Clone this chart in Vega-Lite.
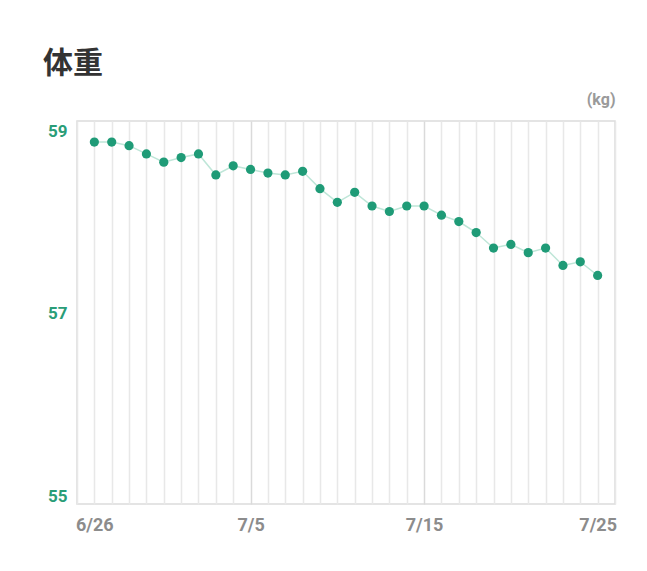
{
  "$schema": "https://vega.github.io/schema/vega-lite/v6.json",
  "width": 538,
  "height": 383,
  "autosize": {"type": "none"},
  "padding": {"left": 77, "top": 121, "right": 32, "bottom": 67},
  "background": "white",
  "title": {
    "text": "体重",
    "anchor": "start",
    "frame": "group",
    "dx": -34,
    "offset": 12,
    "font": "Noto Sans CJK JP",
    "fontSize": 30,
    "fontWeight": "bold",
    "color": "#333333"
  },
  "config": {
    "view": {"stroke": "#dcdcdc", "strokeWidth": 1.5},
    "font": "Roboto"
  },
  "data": {
    "values": [
      {"date": "2024-06-26", "kg": 58.88},
      {"date": "2024-06-27", "kg": 58.88},
      {"date": "2024-06-28", "kg": 58.84},
      {"date": "2024-06-29", "kg": 58.75},
      {"date": "2024-06-30", "kg": 58.66},
      {"date": "2024-07-01", "kg": 58.71},
      {"date": "2024-07-02", "kg": 58.75},
      {"date": "2024-07-03", "kg": 58.52},
      {"date": "2024-07-04", "kg": 58.62},
      {"date": "2024-07-05", "kg": 58.58},
      {"date": "2024-07-06", "kg": 58.54},
      {"date": "2024-07-07", "kg": 58.52},
      {"date": "2024-07-08", "kg": 58.56},
      {"date": "2024-07-09", "kg": 58.37},
      {"date": "2024-07-10", "kg": 58.22},
      {"date": "2024-07-11", "kg": 58.33},
      {"date": "2024-07-12", "kg": 58.18},
      {"date": "2024-07-13", "kg": 58.12},
      {"date": "2024-07-14", "kg": 58.18},
      {"date": "2024-07-15", "kg": 58.18},
      {"date": "2024-07-16", "kg": 58.08},
      {"date": "2024-07-17", "kg": 58.01},
      {"date": "2024-07-18", "kg": 57.89},
      {"date": "2024-07-19", "kg": 57.72},
      {"date": "2024-07-20", "kg": 57.76},
      {"date": "2024-07-21", "kg": 57.67},
      {"date": "2024-07-22", "kg": 57.72},
      {"date": "2024-07-23", "kg": 57.53},
      {"date": "2024-07-24", "kg": 57.57},
      {"date": "2024-07-25", "kg": 57.42}
    ]
  },
  "encoding": {
    "x": {
      "field": "date",
      "type": "temporal",
      "scale": {"type": "utc", "domain": ["2024-06-25", "2024-07-26"]},
      "axis": {
        "title": null,
        "tickCount": {"interval": "day", "step": 1},
        "labelExpr": "indexof(['6/26','7/5','7/15','7/25'], utcFormat(datum.value, '%-m/%-d')) >= 0 ? utcFormat(datum.value, '%-m/%-d') : ''",
        "labelOverlap": false,
        "labelFlush": false,
        "labelBound": false,
        "labelFont": "Roboto",
        "labelFontSize": 18,
        "labelFontWeight": "bold",
        "labelColor": "#8c8c8c",
        "labelBaseline": "top",
        "labelPadding": 12,
        "ticks": false,
        "domain": false,
        "grid": true,
        "gridColor": {"condition": {"test": "indexof([5,15], utcdate(datum.value)) >= 0 && utcmonth(datum.value) == 6", "value": "#dadada"}, "value": "#e8e8e8"},
        "gridWidth": 1.5
      }
    },
    "y": {
      "field": "kg",
      "type": "quantitative",
      "scale": {"domain": [54.92, 59.11], "nice": false, "zero": false},
      "axis": {
        "values": [55, 57, 59],
        "grid": false,
        "ticks": false,
        "domain": false,
        "labelFont": "Roboto",
        "labelFontSize": 17,
        "labelFontWeight": "bold",
        "labelColor": "#2a9d78",
        "labelPadding": 10,
        "title": "(kg)",
        "titleAngle": 0,
        "titleX": 538,
        "titleY": -22,
        "titleAlign": "right",
        "titleBaseline": "middle",
        "titleFont": "Roboto",
        "titleFontSize": 16,
        "titleFontWeight": "bold",
        "titleColor": "#9a9a9a"
      }
    }
  },
  "layer": [
    {"mark": {"type": "line", "color": "#bfe6d8", "strokeWidth": 1.5}},
    {"mark": {"type": "point", "filled": true, "opacity": 1, "size": 85, "color": "#1f9b77"}}
  ]
}
